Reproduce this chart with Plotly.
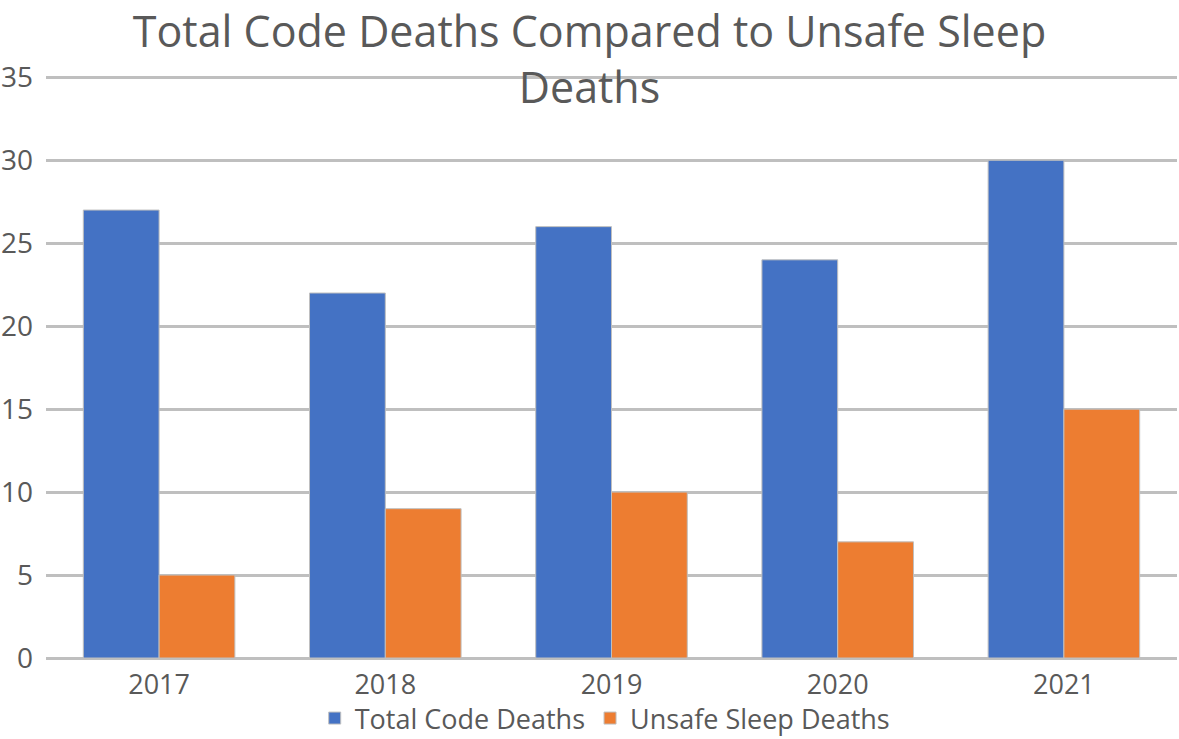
import plotly.graph_objects as go

years = ["2017", "2018", "2019", "2020", "2021"]
total_code_deaths = [27, 22, 26, 24, 30]
unsafe_sleep_deaths = [5, 9, 10, 7, 15]

font_family = "Open Sans, DejaVu Sans, sans-serif"
text_color = "#595959"

fig = go.Figure()
fig.add_trace(go.Bar(
    x=years, y=total_code_deaths, name="Total Code Deaths",
    marker=dict(color="#4472C4", line=dict(color="#BFBFBF", width=1)),
))
fig.add_trace(go.Bar(
    x=years, y=unsafe_sleep_deaths, name="Unsafe Sleep Deaths",
    marker=dict(color="#ED7D31", line=dict(color="#BFBFBF", width=1)),
))

fig.update_layout(
    width=1179, height=739,
    autosize=False,
    paper_bgcolor="white", plot_bgcolor="white",
    margin=dict(l=46, r=2, t=76, b=81, autoexpand=False),
    barmode="group", bargap=0.33, bargroupgap=0,
    font=dict(family=font_family, color=text_color, size=27),
    title=dict(
        text="Total Code Deaths Compared to Unsafe Sleep<br>Deaths",
        x=0.5, xanchor="center", xref="container",
        y=1 - 47 / 739, yanchor="middle", yref="container",
        font=dict(size=43, color=text_color, family=font_family),
    ),
    legend=dict(
        orientation="h", x=0.494, xanchor="center", y=-0.104, yanchor="middle",
        font=dict(size=27, color=text_color), itemwidth=30,
        bgcolor="rgba(0,0,0,0)", tracegroupgap=0,
    ),
    xaxis=dict(
        showgrid=False, showline=False, ticks="",
        ticklabelstandoff=8,
        tickfont=dict(size=27, color=text_color),
    ),
    yaxis=dict(
        range=[0, 35.08], dtick=5, tick0=0,
        showgrid=True, gridcolor="#BFBFBF", gridwidth=2.5,
        zeroline=True, zerolinecolor="#BFBFBF", zerolinewidth=2.5,
        ticks="", ticklabelstandoff=12,
        tickfont=dict(size=28, color=text_color),
        showline=False,
    ),
)

fig.write_html("out.html")
